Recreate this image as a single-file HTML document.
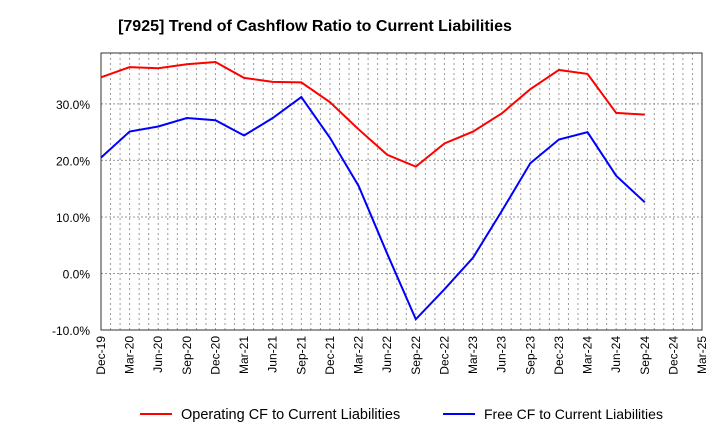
<!DOCTYPE html>
<html><head><meta charset="utf-8"><style>body{margin:0;background:#fff}svg{font-family:"Liberation Sans",sans-serif}</style></head>
<body>
<svg id="c" width="720" height="440">
<text x="315" y="31" text-anchor="middle" font-size="16" font-weight="bold">[7925]  Trend of Cashflow Ratio to Current Liabilities</text>
<g id="grid"></g><g id="axes"></g><g id="series"></g>
<g>
<line x1="140" y1="414" x2="172" y2="414" stroke="#f00" stroke-width="2"/>
<text x="181" y="419" font-size="14.5">Operating CF to Current Liabilities</text>
<line x1="443" y1="414" x2="475" y2="414" stroke="#00f" stroke-width="2"/>
<text x="484" y="419" font-size="14">Free CF to Current Liabilities</text>
</g>
</svg>
<script>
const categories=["Dec-19","Mar-20","Jun-20","Sep-20","Dec-20","Mar-21","Jun-21","Sep-21","Dec-21","Mar-22","Jun-22","Sep-22","Dec-22","Mar-23","Jun-23","Sep-23","Dec-23","Mar-24","Jun-24","Sep-24","Dec-24","Mar-25"];
const operatingCF=[34.7,36.5,36.3,37.0,37.4,34.6,33.9,33.8,30.3,25.5,21.0,18.9,23.0,25.1,28.3,32.6,36.0,35.3,28.4,28.1];
const freeCF=[20.5,25.1,26.0,27.5,27.1,24.4,27.5,31.2,24.0,15.5,3.5,-8.1,-2.8,2.8,11.0,19.5,23.7,25.0,17.3,12.6];
const yTicks=[-10,0,10,20,30];
const yTickLabels=["-10.0%","0.0%","10.0%","20.0%","30.0%"];
const X0=101,X1=702,Y0=53,Y1=330,YMIN=-10,YMAX=39;
const NS="http://www.w3.org/2000/svg";
const x=i=>X0+(X1-X0)*i/(categories.length-1);
const y=v=>Y1-(v-YMIN)/(YMAX-YMIN)*(Y1-Y0);
function mk(t,a,p){const e=document.createElementNS(NS,t);for(const k in a)e.setAttribute(k,a[k]);p.appendChild(e);return e;}
const grid=document.getElementById('grid'),axes=document.getElementById('axes'),series=document.getElementById('series');
const nm=(categories.length-1)*3;
for(let m=1;m<nm;m++){const xx=X0+(X1-X0)*m/nm;const l=mk('line',{x1:xx,x2:xx,y1:Y0,y2:Y1,stroke:'#999','stroke-dasharray':'2,3'},grid);

}
yTicks.forEach((v,i)=>{const l=mk('line',{x1:X0,x2:X1,y1:y(v),y2:y(v),stroke:'#999','stroke-dasharray':'2,2'},grid);


const t=mk('text',{x:X0-11,y:y(v)+5,'text-anchor':'end','font-size':'12'},axes);t.textContent=yTickLabels[i];

});
const r=mk('rect',{x:X0,y:Y0,width:X1-X0,height:Y1-Y0,fill:'none',stroke:'#333'},axes);


categories.forEach((c,i)=>{const xx=x(i);const t=mk('text',{transform:`translate(${xx+4},${Y1+6}) rotate(-90)`,'text-anchor':'end','font-size':'12'},axes);t.textContent=c;

});
function line(d,col,name){const p=mk('polyline',{points:d.map((v,i)=>x(i)+','+y(v)).join(' '),fill:'none',stroke:col,'stroke-width':2},series);

}
line(operatingCF,'#f00','operating-cf-line');
line(freeCF,'#00f','free-cf-line');
</script>
</body></html>
